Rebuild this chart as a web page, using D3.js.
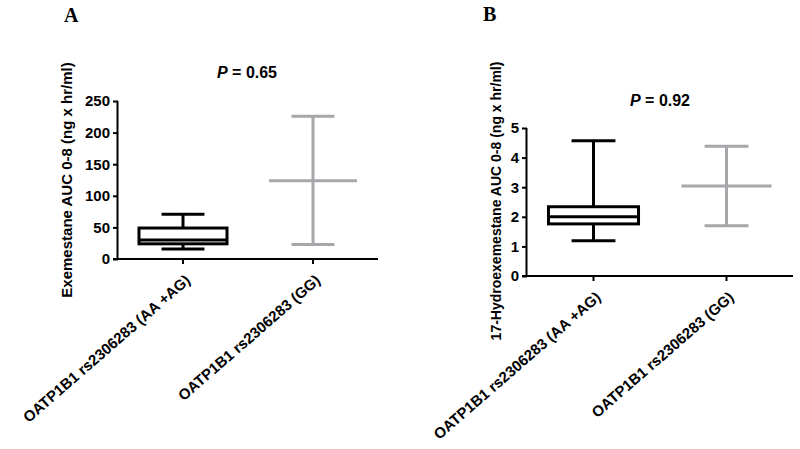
<!DOCTYPE html>
<html><head><meta charset="utf-8">
<script src="https://cdn.jsdelivr.net/npm/d3@7"></script>
<style>
body{margin:0;background:#fff;}
svg text{font-family:Arial,"Liberation Sans",sans-serif;font-weight:bold;fill:#000;}
</style></head><body>
<svg id="c" width="800" height="449"></svg>
<script>
const categories = ["OATP1B1 rs2306283 (AA +AG)", "OATP1B1 rs2306283 (GG)"];
// panel A: Exemestane AUC (box: min, q1, median, q3, max)
const aStats = [
  {min:16, q1:24, median:30, q3:49, max:71},
  {min:23, q1:null, median:124, q3:null, max:226}
];
const aTicks = [0,50,100,150,200,250];
// panel B: 17-Hydroexemestane AUC
const bStats = [
  {min:1.19, q1:1.76, median:2.0, q3:2.34, max:4.57},
  {min:1.70, q1:null, median:3.04, q3:null, max:4.38}
];
const bTicks = [0,1,2,3,4,5];
const colors = ["#000000", "#a6a6ab"];

const svg = d3.select("#c");

function panel(o){
  const g = svg.append("g");
  const x = d3.scaleBand().domain(categories).range([o.x0, o.x1]).padding(0);
  const y = d3.scaleLinear().domain(o.domain).range([o.y0, o.y1]);
  const bw = x.bandwidth();
  // axes
  const ya = g.append("g").attr("transform",`translate(${o.x0},0)`)
    .call(d3.axisLeft(y).tickValues(o.ticks).tickFormat(d3.format("d")).tickSize(5).tickPadding(3));
  ya.selectAll("text").style("font-size","15px");
  ya.select(".domain").attr("stroke-width",2).attr("d",`M-0.5,${o.y1}V${o.y0}`);
  ya.selectAll(".tick line").attr("stroke-width",2);
  const xa = g.append("g").attr("transform",`translate(0,${o.y0})`)
    .call(d3.axisBottom(x).tickSize(5).tickPadding(0));
  xa.select(".domain").attr("stroke-width",2).attr("d",`M${o.x0-5},0H${o.x1}`);
  xa.selectAll(".tick line").attr("stroke-width",2);
  xa.selectAll("text").style("font-size","15px")
    .attr("text-anchor","end")
    .attr("transform","translate(5,19) rotate(-41)")
    .attr("dy","0");
  // y label
  g.append("text").attr("transform",`translate(${o.labX},${o.labY}) rotate(-90)`)
    .attr("text-anchor","middle").style("font-size",o.labSize).text(o.ylabel);
  // P value
  g.append("text").attr("x",o.px).attr("y",o.py).attr("text-anchor","middle")
    .style("font-size","16px")
    .html(`<tspan font-style="italic">P</tspan> = ${o.p}`);
  // panel letter
  g.append("text").attr("x",o.lx).attr("y",o.ly)
    .style("font-family","'Liberation Serif','Times New Roman',serif")
    .style("font-size","20px").text(o.letter);
  // boxes
  o.stats.forEach((s,i)=>{
    const cx = x(categories[i]) + bw/2;
    const c = colors[i];
    const boxW = bw*0.677, capW = bw*0.33;
    const bg = g.append("g").attr("stroke",c).attr("stroke-width",3).attr("fill","none");
    if(s.q1!==null){
      bg.append("line").attr("x1",cx).attr("x2",cx).attr("y1",y(s.max)).attr("y2",y(s.q3));
      bg.append("line").attr("x1",cx).attr("x2",cx).attr("y1",y(s.q1)).attr("y2",y(s.min));
      bg.append("rect").attr("x",cx-boxW/2).attr("width",boxW)
        .attr("y",y(s.q3)).attr("height",y(s.q1)-y(s.q3)).attr("fill","#fff");
    } else {
      bg.append("line").attr("x1",cx).attr("x2",cx).attr("y1",y(s.max)).attr("y2",y(s.min));
    }
    bg.append("line").attr("x1",cx-boxW/2).attr("x2",cx+boxW/2).attr("y1",y(s.median)).attr("y2",y(s.median));
    bg.append("line").attr("x1",cx-capW/2).attr("x2",cx+capW/2).attr("y1",y(s.max)).attr("y2",y(s.max));
    bg.append("line").attr("x1",cx-capW/2).attr("x2",cx+capW/2).attr("y1",y(s.min)).attr("y2",y(s.min));
  });
}

panel({x0:118,x1:378,y0:259,y1:101,domain:[0,250],ticks:aTicks,stats:aStats,
  ylabel:"Exemestane AUC 0-8 (ng x hr/ml)",labX:72,labY:180,labSize:"15px",px:247,py:78,p:"0.65",
  letter:"A",lx:64,ly:22});
panel({x0:527,x1:793,y0:276,y1:128,domain:[0,5],ticks:bTicks,stats:bStats,
  ylabel:"17-Hydroexemestane AUC 0-8 (ng x hr/ml)",labX:501,labY:201,labSize:"14px",px:660,py:106,p:"0.92",
  letter:"B",lx:483,ly:21});
</script></body></html>
